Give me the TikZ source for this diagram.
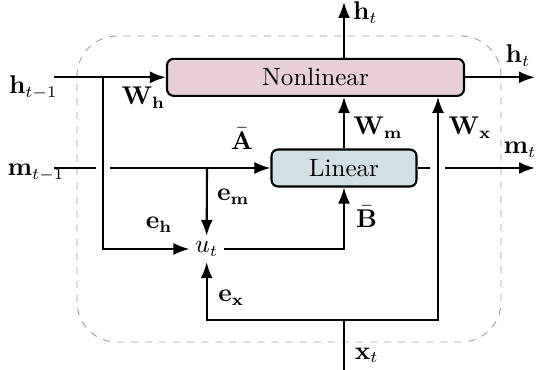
\documentclass[tikz,border=0pt]{standalone}
\usetikzlibrary{arrows.meta}

\definecolor{nonlinfill}{RGB}{233,207,218}
\definecolor{linfill}{RGB}{210,224,228}

\begin{document}
\begin{tikzpicture}[>={Latex[length=2.4mm,width=1.8mm]}, line width=0.9pt, font=\fontsize{10.7}{13}\selectfont]
\useasboundingbox (0,0) rectangle (8.055,5.55);

% cell boundary
\draw[gray!75, dashed, line width=0.4pt, rounded corners=0.6cm] (1.155,0.42) rectangle (7.515,5.01);

\node[draw, rounded corners=1mm, minimum width=4.455cm, minimum height=0.555cm, fill=nonlinfill] (nonlin) at (4.7325,4.39) {Nonlinear};
\node[draw, rounded corners=1mm, minimum width=2.175cm, minimum height=0.555cm, fill=linfill] (lin) at (5.16,3.03) {Linear};
\node[inner sep=2pt] (ut) at (3.1,1.815) {$u_t$};

\coordinate (hin) at (0.81,4.39);
\coordinate (min) at (0.81,3.03);
\coordinate (hsplit) at (1.545,4.39);
\coordinate (msplit) at (3.105,3.03);
\coordinate (xin) at (5.16,0);
\coordinate (xjoin) at (5.16,0.75);
\coordinate (wxfoot) at (6.57,0.75);
\coordinate (hout) at (8.025,4.39);
\coordinate (mout) at (8.025,3.03);
\coordinate (htop) at (5.16,5.52);

% inputs
\draw[->] (hin) -- (nonlin.west);
\draw[->] (hsplit) |- (ut.west);
\draw (min) -- (1.44,3.03);
\draw[->] (1.65,3.03) -- (lin.west);
\draw[->] (msplit) -- (ut.north);
\draw[->] (ut.east) -| (lin.south);
\draw (xin) -- (xjoin);
\draw[->] (xjoin) -| (ut.south);
\draw[->] (xjoin) -- (wxfoot) -- (wxfoot |- nonlin.south);

% outputs
\draw[->] (lin.north) -- (lin.north |- nonlin.south);
\draw[->] (htop |- nonlin.north) -- (htop);
\draw[->] (nonlin.east) -- (hout);
\draw (lin.east) -- (6.45,3.03);
\draw[->] (6.675,3.03) -- (mout);

% labels
\node (lhin) at (0.5,4.24) {$\mathbf{h}_{t-1}$};
\node (lmin) at (0.54,2.96) {$\mathbf{m}_{t-1}$};
\node (lwh) at (2.15,4.08) {$\mathbf{W}_{\mathbf{h}}$};
\node (labar) at (3.63,3.47) {$\bar{\mathbf{A}}$};
\node (lem) at (3.5,2.6) {$\mathbf{e}_{\mathbf{m}}$};
\node (leh) at (2.385,2.18) {$\mathbf{e}_{\mathbf{h}}$};
\node (lex) at (3.47,1.08) {$\mathbf{e}_{\mathbf{x}}$};
\node (lbbar) at (5.5,2.3) {$\bar{\mathbf{B}}$};
\node (lwm) at (5.67,3.64) {$\mathbf{W}_{\mathbf{m}}$};
\node (lwx) at (7.05,3.64) {$\mathbf{W}_{\mathbf{x}}$};
\node (lhtop) at (5.48,5.36) {$\mathbf{h}_t$};
\node (lhout) at (7.77,4.72) {$\mathbf{h}_t$};
\node (lmout) at (7.8,3.3) {$\mathbf{m}_t$};
\node (lxin) at (5.5,0.22) {$\mathbf{x}_t$};
\end{tikzpicture}
\end{document}
